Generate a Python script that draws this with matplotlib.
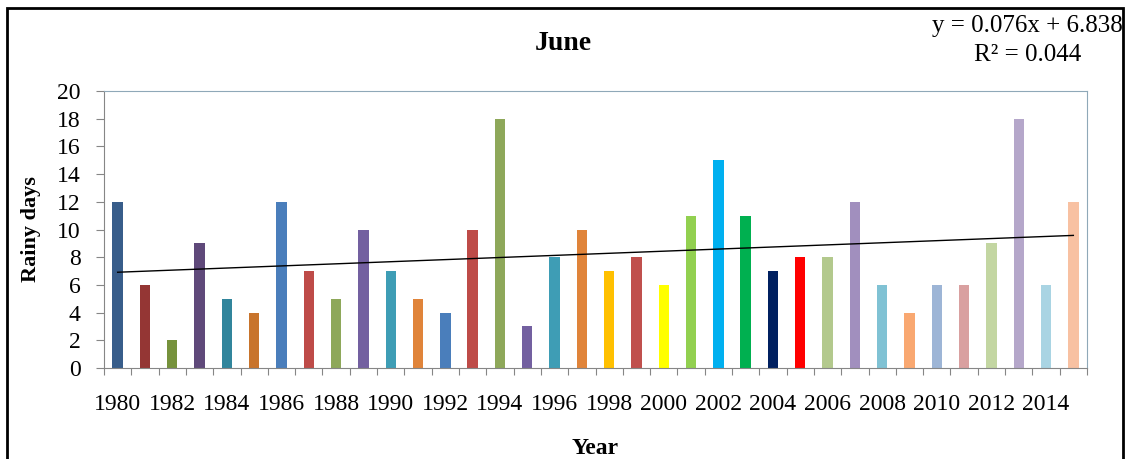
import numpy as np
import matplotlib
matplotlib.use("Agg")
import matplotlib.pyplot as plt
from matplotlib.patches import Rectangle

years = list(range(1980, 2016))
rainy_days = [12, 6, 2, 9, 5, 4, 12, 7, 5, 10, 7, 5, 4, 10, 18, 3, 8, 10,
              7, 8, 6, 11, 15, 11, 7, 8, 8, 12, 6, 4, 6, 6, 9, 18, 6, 12]
bar_colors = ["#385D8A", "#943634", "#76923C", "#5F497A", "#31859C", "#C8742C",
              "#4A7EBB", "#BE4B48", "#8EA85A", "#7360A0", "#3E9DB5", "#E0843A",
              "#4A7EBB", "#BE4B48", "#8EA85A", "#7360A0", "#3E9DB5", "#E0843A",
              "#FFC000", "#C0504D", "#FFFF00", "#92D050", "#00B0F0", "#00B050",
              "#002060", "#FF0000", "#B3C98D", "#A18FBE", "#80C2D4", "#F9A871",
              "#9DB5D6", "#D9A0A0", "#C3D6A2", "#B5A7CA", "#A9D4E3", "#F8C1A2"]
tick_years = years[::2][:18]

# linear trend as reported on the chart (x = 1..n)
slope, intercept = 0.076, 6.838
r_squared = 0.044

plt.rcParams["font.family"] = ["Liberation Serif", "DejaVu Serif"]

fig = plt.figure(figsize=(11.25, 4.59), dpi=100)
ax = fig.add_axes([104 / 1125, 1 - 368 / 459, (1087 - 104) / 1125, (368 - 91) / 459])

x = np.arange(len(years))
ax.bar(x, rainy_days, width=0.38, color=bar_colors, zorder=2)

xn = x + 1
ax.plot(x, slope * xn + intercept, color="black", linewidth=1.0, zorder=3)

ax.set_xlim(-0.5, len(years) - 0.5)
ax.set_ylim(0, 20)
ax.set_yticks(range(0, 21, 2))
ax.set_xticks(np.arange(-0.5, len(years), 1.0))
ax.set_xticklabels([])
ax.set_xticks([years.index(y) for y in tick_years], minor=True)
ax.set_xticklabels([str(y) for y in tick_years], minor=True)
ax.tick_params(axis="x", which="major", direction="out", length=5, color="#868686")
ax.tick_params(axis="x", which="minor", length=0, labelsize=17, pad=19)
ax.tick_params(axis="y", direction="out", length=6, color="#868686", labelsize=17, pad=11)

ax.spines["left"].set_color("#868686")
ax.spines["bottom"].set_color("#868686")
ax.spines["top"].set_color("#8FA8B8")
ax.spines["right"].set_color("#8FA8B8")

ax.set_ylabel("Rainy days", fontsize=16, fontweight="bold", labelpad=11)
ax.set_xlabel("Year", fontsize=17, fontweight="bold", labelpad=16)

fig.text(563 / 1125, 1 - 43 / 459, "June", fontsize=20, fontweight="bold",
         ha="center", va="center")
fig.text(1123 / 1125, 1 - 26 / 459, "y = 0.076x + 6.838", fontsize=18,
         ha="right", va="center")
fig.text(1028 / 1125, 1 - 55 / 459, "R\u00b2 = " + f"{r_squared:.3f}", fontsize=18,
         ha="center", va="center")

# outer frame
fig.patches.append(Rectangle((7 / 1125, -0.1), (1123 - 7) / 1125, 1.1 - 8 / 459,
                             transform=fig.transFigure, fill=False,
                             edgecolor="black", linewidth=2))

fig.savefig("out.png", dpi=100)
